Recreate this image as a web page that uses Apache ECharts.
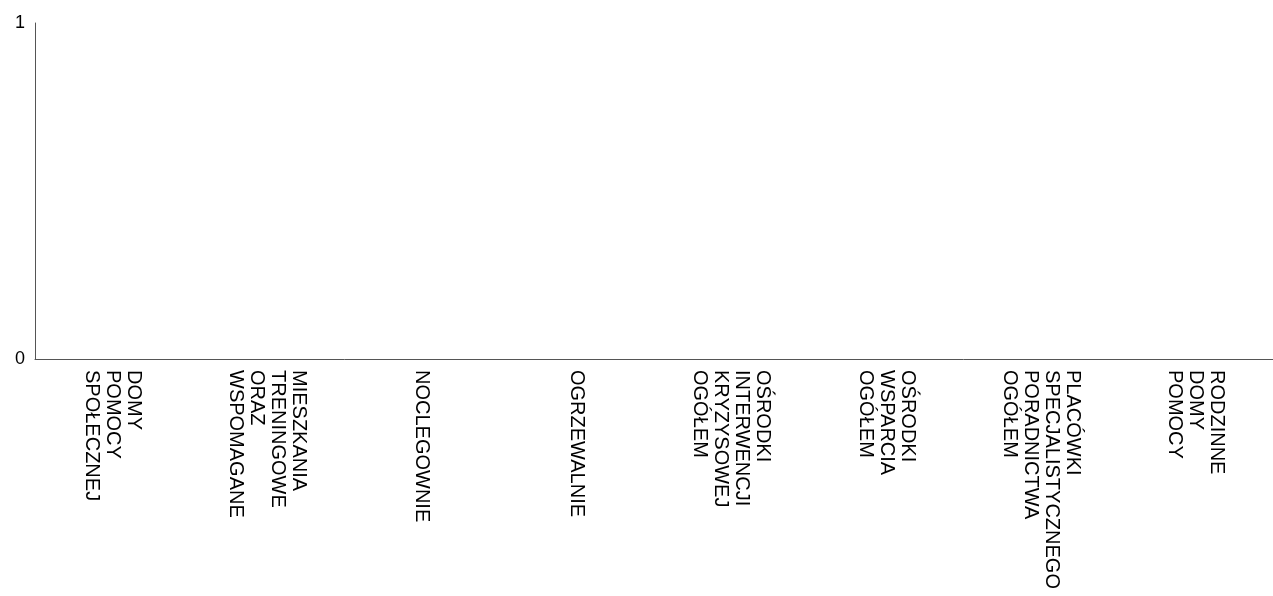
<!DOCTYPE html>
<html>
<head>
<meta charset="utf-8">
<script src="https://cdn.jsdelivr.net/npm/echarts@6/dist/echarts.min.js"></script>
<style>
    html, body { margin: 0; padding: 0; background: #fff; }
    #main { width: 1273px; height: 596px; }
</style>
</head>
<body>
<div id="main"></div>
<script>
// kategorie (nazwy placówek, łamane na linie jak w oryginale)
var categories = [
    'DOMY\nPOMOCY\nSPOŁECZNEJ',
    'MIESZKANIA\nTRENINGOWE\nORAZ\nWSPOMAGANE',
    'NOCLEGOWNIE',
    'OGRZEWALNIE',
    'OŚRODKI\nINTERWENCJI\nKRYZYSOWEJ\nOGÓŁEM',
    'OŚRODKI\nWSPARCIA\nOGÓŁEM',
    'PLACÓWKI\nSPECJALISTYCZNEGO\nPORADNICTWA\nOGÓŁEM',
    'RODZINNE\nDOMY\nPOMOCY'
];
// wartości - na wykresie brak słupków
var values = [0, 0, 0, 0, 0, 0, 0, 0];
// podziałka osi Y
var yMin = 0;
var yMax = 1;
var yStep = 1;

var myChart = echarts.init(document.getElementById('main'));
myChart.setOption({
    animation: false,
    backgroundColor: '#fff',
    grid: {
        left: 35,
        right: 0,
        top: 23,
        bottom: 237
    },
    xAxis: {
        type: 'category',
        data: categories,
        axisLine: { show: true, lineStyle: { color: '#555', width: 1 } },
        axisTick: { show: false },
        axisLabel: {
            interval: 0,
            rotate: -90,
            margin: 11,
            color: '#000',
            fontFamily: 'Liberation Sans, Arial, sans-serif',
            fontSize: 20,
            lineHeight: 21
        },
        splitLine: { show: false }
    },
    yAxis: {
        type: 'value',
        min: yMin,
        max: yMax,
        interval: yStep,
        axisLine: { show: true, lineStyle: { color: '#555', width: 1 } },
        axisTick: { show: false },
        splitLine: { show: false },
        axisLabel: {
            margin: 10,
            color: '#000',
            fontFamily: 'Liberation Sans, Arial, sans-serif',
            fontSize: 18
        }
    },
    series: [{
        type: 'bar',
        data: values,
        itemStyle: { color: '#555' }
    }]
});
</script>
</body>
</html>
